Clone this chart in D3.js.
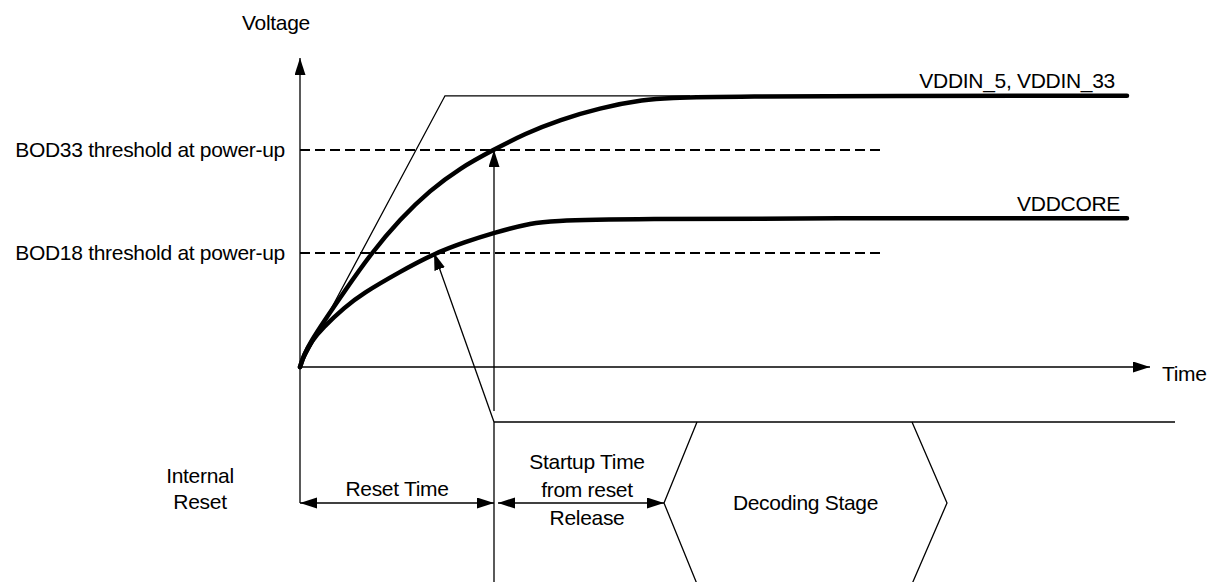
<!DOCTYPE html>
<html>
<head>
<meta charset="utf-8">
<script src="https://cdn.jsdelivr.net/npm/d3@7"></script>
<style>
  body { margin: 0; background: #fff; }
  text { font-family: "Liberation Sans", Arial, sans-serif; font-size: 21px; letter-spacing: -0.3px; fill: #000; }
</style>
</head>
<body>
<script>
// power-up sequence (time in arbitrary units, voltage in V)
var vddinTime  = [0, 4, 12, 22, 45, 71, 100, 130, 160, 193, 225, 260, 300, 340, 390, 827];
var vddinVolt  = [0, 0.15, 0.33, 0.52, 0.93, 1.38, 1.80, 2.15, 2.42, 2.64, 2.84, 3.01, 3.15, 3.25, 3.30, 3.30];
var coreTime   = [0, 4, 12, 22, 45, 62, 100, 134, 165, 193, 230, 267, 827];
var coreVolt   = [0, 0.15, 0.32, 0.47, 0.73, 0.89, 1.16, 1.38, 1.52, 1.63, 1.75, 1.81, 1.81];
var rampTime   = [0, 145, 390];
var rampVolt   = [0, 3.30, 3.30];
var thresholds = [2.64, 1.387];
var thresholdLabels = ["BOD33 threshold at power-up", "BOD18 threshold at power-up"];
var thresholdEnd = 584;
var bod18Cross = 134;   // where VDDCORE meets BOD18
var resetRelease = 194; // reset time end
var startupEnd = 364;   // startup end / decoding start
var decodeEnd = 612;    // decoding top-right corner
var resetLineEnd = 875;
var timeMax = 850, voltMax = 3.76;

var svg = d3.select("body").append("svg").attr("width", 1211).attr("height", 582);

var x = d3.scaleLinear().domain([0, timeMax]).range([300, 1150]);
var y = d3.scaleLinear().domain([0, voltMax]).range([367, 58]);

// arrow head
svg.append("defs").append("marker")
  .attr("id", "arr")
  .attr("markerUnits", "userSpaceOnUse")
  .attr("markerWidth", 18).attr("markerHeight", 12)
  .attr("refX", 17).attr("refY", 5.5)
  .attr("orient", "auto-start-reverse")
  .append("path").attr("d", "M0,0 L17,5.5 L0,11 Z").attr("fill", "#000");

function line(x1, y1, x2, y2, w) {
  return svg.append("line")
    .attr("x1", x1).attr("y1", y1).attr("x2", x2).attr("y2", y2)
    .attr("stroke", "#000").attr("stroke-width", w || 1.3);
}

// axes
line(x(0), 503, x(0), y(voltMax)).attr("marker-end", "url(#arr)");
line(x(0), y(0), x(timeMax), y(0)).attr("marker-end", "url(#arr)");
svg.append("text").attr("x", 242).attr("y", 30).text("Voltage");
svg.append("text").attr("x", 1162).attr("y", 381).text("Time");

// threshold lines
thresholds.forEach(function(v, i) {
  line(x(0), y(v), x(thresholdEnd), y(v), 2).attr("stroke-dasharray", "10,5");
  svg.append("text").attr("x", 285).attr("y", y(v) + 7)
    .attr("text-anchor", "end").text(thresholdLabels[i]);
});

// supply ramp (thin)
var lineGen = d3.line().x(function(d) { return x(d[0]); }).y(function(d) { return y(d[1]); });
svg.append("path")
  .attr("d", lineGen(d3.zip(rampTime, rampVolt)))
  .attr("fill", "none").attr("stroke", "#000").attr("stroke-width", 1.3);

// supply curves (thick)
var curveGen = d3.line().x(function(d) { return x(d[0]); }).y(function(d) { return y(d[1]); })
  .curve(d3.curveBasis);
[d3.zip(vddinTime, vddinVolt), d3.zip(coreTime, coreVolt)].forEach(function(pts) {
  svg.append("path").attr("d", curveGen(pts))
    .attr("fill", "none").attr("stroke", "#000").attr("stroke-width", 4.5)
    .attr("stroke-linecap", "round").attr("stroke-linejoin", "round");
});
svg.append("text").attr("x", 1115).attr("y", 88).attr("text-anchor", "end").text("VDDIN_5, VDDIN_33");
svg.append("text").attr("x", 1120).attr("y", 211).attr("text-anchor", "end").text("VDDCORE");

// trigger arrows
line(x(resetRelease), 411, x(resetRelease), y(thresholds[0])).attr("marker-end", "url(#arr)");
line(x(resetRelease), 422, x(bod18Cross), y(thresholds[1])).attr("marker-end", "url(#arr)");

// internal reset signal
line(x(resetRelease), 422, x(resetLineEnd), 422);
line(x(resetRelease), 422, x(resetRelease), 582);
svg.append("text").attr("x", 200).attr("y", 483).attr("text-anchor", "middle").text("Internal");
svg.append("text").attr("x", 200).attr("y", 509).attr("text-anchor", "middle").text("Reset");

// timing arrows
line(x(0), 503, x(resetRelease), 503, 1.5)
  .attr("marker-start", "url(#arr)").attr("marker-end", "url(#arr)");
line(x(resetRelease) + 4, 503, x(startupEnd), 503, 1.5)
  .attr("marker-start", "url(#arr)").attr("marker-end", "url(#arr)");
svg.append("text").attr("x", (x(0) + x(resetRelease)) / 2).attr("y", 496)
  .attr("text-anchor", "middle").text("Reset Time");
["Startup Time", "from reset", "Release"].forEach(function(s, i) {
  svg.append("text").attr("x", 587).attr("y", 469 + i * 28)
    .attr("text-anchor", "middle").text(s);
});

// decoding stage hexagon
var hx = [x(startupEnd), x(startupEnd) + 33, x(decodeEnd), x(decodeEnd) + 35];
svg.append("path")
  .attr("d", "M" + hx[1] + ",422 L" + hx[0] + ",503 L" + hx[1] + ",584" +
             " M" + hx[2] + ",422 L" + hx[3] + ",503 L" + hx[2] + ",584")
  .attr("fill", "none").attr("stroke", "#000").attr("stroke-width", 1.3);
svg.append("text").attr("x", (hx[0] + hx[3]) / 2).attr("y", 510)
  .attr("text-anchor", "middle").text("Decoding Stage");
</script>
</body>
</html>
